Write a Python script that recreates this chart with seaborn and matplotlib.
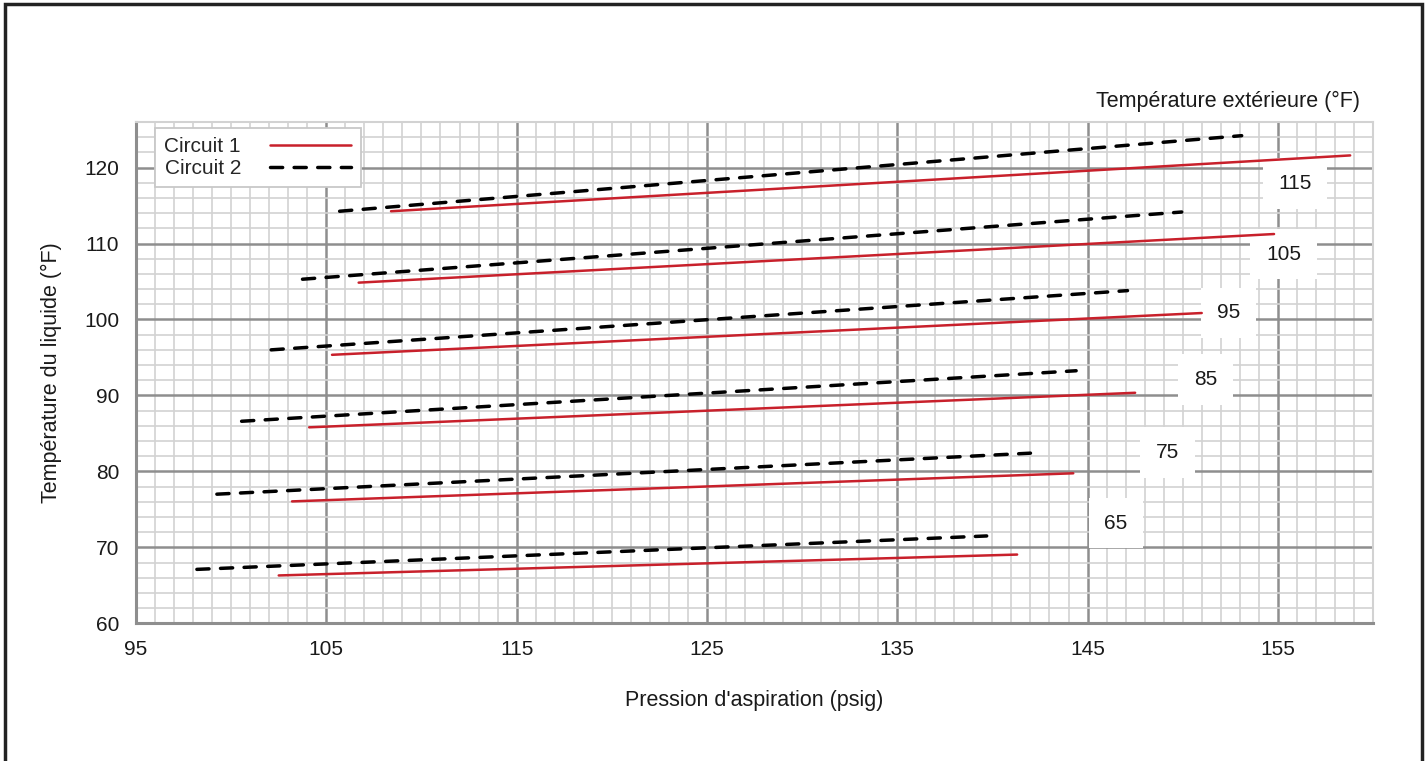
import matplotlib
matplotlib.use("Agg")
import matplotlib.pyplot as plt
import seaborn as sns
import numpy as np
from matplotlib.patches import Rectangle
from matplotlib.ticker import MultipleLocator

# ---- data ----
outdoor_temps = [65, 75, 85, 95, 105, 115]

# Circuit 1 (solid red): start / end points
c1_press_start = [102.5, 103.2, 104.1, 105.3, 106.7, 108.4]
c1_temp_start = [66.3, 76.05, 85.8, 95.35, 104.85, 114.25]
c1_press_end = [141.3, 144.25, 147.5, 151.0, 154.8, 158.8]
c1_temp_end = [69.05, 79.75, 90.35, 100.85, 111.25, 121.6]

# Circuit 2 (dashed black): start / end points
c2_press_start = [98.2, 99.25, 100.55, 102.1, 103.75, 105.7]
c2_temp_start = [67.1, 77.0, 86.6, 96.0, 105.3, 114.25]
c2_press_end = [139.7, 142.0, 144.4, 147.1, 149.95, 153.1]
c2_temp_end = [71.5, 82.4, 93.25, 103.8, 114.15, 124.2]

# label positions for the outdoor temperature tags
tag_press = [146.5, 149.2, 151.2, 152.4, 155.3, 155.9]
tag_temp = [73.2, 82.5, 92.1, 100.9, 108.6, 117.9]

x_ticks = [95, 105, 115, 125, 135, 145, 155]
y_ticks = [60, 70, 80, 90, 100, 110, 120]

xlabel = "Pression d'aspiration (psig)"
ylabel = "Température du liquide (°F)"
corner_title = "Température extérieure (°F)"
series_names = ["Circuit 1", "Circuit 2"]

# ---- style ----
sns.set_theme(style="white")
plt.rcParams["font.family"] = ["Liberation Sans", "DejaVu Sans"]

RED = "#c8202b"
MAJOR = "#8e8e8e"
MINOR = "#d2d2d2"
FS_TICK = 15
FS_LEG = 15
FS_LAB = 15.5

fig = plt.figure(figsize=(14.26, 7.61), dpi=100)
ax = fig.add_axes([136 / 1426, 1 - 623.3 / 761, (1373 - 136) / 1426, (623.3 - 122) / 761])

ax.set_xlim(95, 160)
ax.set_ylim(60, 126)
ax.set_xticks(x_ticks)
ax.set_yticks(y_ticks)
ax.xaxis.set_minor_locator(MultipleLocator(1))
ax.yaxis.set_minor_locator(MultipleLocator(2))
ax.grid(which="minor", color=MINOR, lw=1.2, zorder=0)
ax.grid(which="major", color=MAJOR, lw=1.8, zorder=0.5)
ax.set_axisbelow(True)
ax.tick_params(which="both", length=0)
ax.tick_params(axis="x", pad=12, labelsize=FS_TICK, colors="#1a1a1a")
ax.tick_params(axis="y", pad=12, labelsize=FS_TICK, colors="#1a1a1a")

for side in ["left", "bottom"]:
    ax.spines[side].set_color(MAJOR)
    ax.spines[side].set_linewidth(2.2)
for side in ["top", "right"]:
    ax.spines[side].set_color(MINOR)
    ax.spines[side].set_linewidth(1.5)

# ---- lines ----
for i in range(len(outdoor_temps)):
    sns.lineplot(x=[c2_press_start[i], c2_press_end[i]],
                 y=[c2_temp_start[i], c2_temp_end[i]],
                 ax=ax, color="black", lw=2.5, zorder=4,
                 label=series_names[1] if i == 0 else None,
                 linestyle=(0, (3.5, 3.3)), dash_capstyle="round")
    sns.lineplot(x=[c1_press_start[i], c1_press_end[i]],
                 y=[c1_temp_start[i], c1_temp_end[i]],
                 ax=ax, color=RED, lw=1.8, zorder=5,
                 label=series_names[0] if i == 0 else None)

# ---- tags ----
for t, px, py in zip(outdoor_temps, tag_press, tag_temp):
    ax.text(px, py, str(t), ha="center", va="center", fontsize=FS_TICK, color="#1a1a1a",
            zorder=3,
            bbox=dict(boxstyle="square,pad=0.75", facecolor="white", edgecolor="none"))

# ---- legend ----
handles, labels = ax.get_legend_handles_labels()
order = [labels.index(n) for n in series_names]
leg = ax.legend([handles[i] for i in order], [labels[i] for i in order],
                loc="upper left", bbox_to_anchor=(0.0154, 0.988), borderaxespad=0,
                markerfirst=False, handlelength=3.9, fontsize=FS_LEG, frameon=True,
                fancybox=False, framealpha=1, edgecolor="#c8c8c8",
                borderpad=0.45, labelspacing=0.12, handletextpad=1.4)
leg.get_frame().set_linewidth(1.3)
leg.set_zorder(6)

# ---- labels ----
ax.set_xlabel(xlabel, fontsize=FS_LAB, labelpad=22, color="#1a1a1a")
ax.set_ylabel(ylabel, fontsize=FS_LAB, labelpad=16, color="#1a1a1a")
ax.text(0.9895, 1.02, corner_title, transform=ax.transAxes, ha="right", va="bottom",
        fontsize=FS_LAB, color="#1a1a1a")

# ---- figure border ----
fig.patches.append(Rectangle((5 / 1426, -0.02), (1422 - 5) / 1426, 1.02 - 4 / 761,
                             transform=fig.transFigure, fill=False,
                             edgecolor="#222222", lw=2.5, zorder=10))

fig.savefig("out.png", dpi=100)
